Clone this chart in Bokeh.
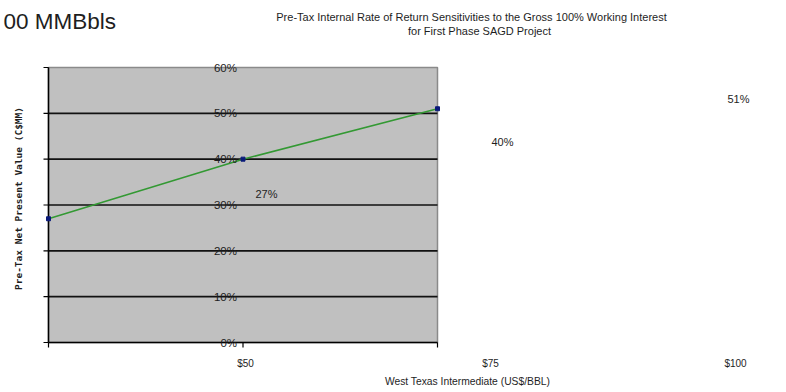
import math
from bokeh.plotting import figure
from bokeh.models import Range1d, ColumnDataSource, LabelSet, Label
from bokeh.core.properties import value
from bokeh.embed import file_html
from bokeh.resources import INLINE

# WTI price cases (US$/BBL) and resulting pre-tax IRR
wti_price = [50, 75, 100]
price_labels = ["$50", "$75", "$100"]
pre_tax_irr = [0.27, 0.40, 0.51]
irr_ticks = [0.0, 0.1, 0.2, 0.3, 0.4, 0.5, 0.6]
irr_tick_labels = ["0%", "10%", "20%", "30%", "40%", "50%", "60%"]
axis_cross_price = 75  # value axis crosses the category axis at this price

# canvas size and plot-area edges (pixels from top-left)
W, H = 786, 392
L, R, T, B = 48, 437, 67, 342
FONT = "Liberation Sans"
INK = "#1e1e1e"


def stretched(v0, p0, v1, p1, lo, hi):
    """Range whose ends land on pixels lo..hi when v0 sits at p0 and v1 at p1."""
    k = (v1 - v0) / (p1 - p0)
    return Range1d(v0 + (lo - p0) * k, v0 + (hi - p0) * k)


x_lo, x_hi = min(wti_price), max(wti_price)
y_lo, y_hi = irr_ticks[0], irr_ticks[-1]

p = figure(
    width=W, height=H,
    output_backend="svg", toolbar_location=None,
    x_range=stretched(x_lo, L, x_hi, R, 0, W),
    y_range=stretched(y_lo, B, y_hi, T, H, 0),
    min_border=0, outline_line_color=None,
    background_fill_color="white", border_fill_color="white",
)
p.axis.visible = False
p.grid.visible = False

# label layers drawn on their own (wider) scales
p.extra_x_ranges = {
    "ticks": stretched(50, 245, 100, 735, 0, W),
    "values": stretched(50, 266, 100, 738, 0, W),
}
p.extra_y_ranges = {"values": stretched(0.27, 193, 0.51, 98, H, 0)}

# plot area
p.quad(left=x_lo, right=x_hi, bottom=y_lo, top=y_hi,
       fill_color="#c0c0c0", line_color="#8a8a8a", line_width=1.5)

# horizontal gridlines
grid_y = irr_ticks[1:-1]
p.segment(x0=[x_lo] * len(grid_y), x1=[x_hi] * len(grid_y), y0=grid_y, y1=grid_y,
          line_color="#111111", line_width=1.6)

# axis lines and outward tick marks
p.segment(x0=[x_lo, x_lo], x1=[x_lo, x_hi], y0=[y_lo, y_lo], y1=[y_hi, y_lo],
          line_color="black", line_width=1.5)
p.ray(x=[x_lo] * len(irr_ticks), y=irr_ticks, length=5, length_units="screen",
      angle=math.pi, line_color="black", line_width=1.2)
p.ray(x=wti_price, y=[y_lo] * len(wti_price), length=5, length_units="screen",
      angle=-math.pi / 2, line_color="black", line_width=1.2)

# IRR line with markers
p.line(wti_price, pre_tax_irr, line_color="#339933", line_width=1.6)
p.scatter(wti_price, pre_tax_irr, marker="square", size=4,
          fill_color="#0a1a7a", line_color="#0a1a7a")

# value-axis tick labels, placed where the axis crosses
ytick_src = ColumnDataSource(dict(
    x=[axis_cross_price] * len(irr_ticks), y=irr_ticks, text=irr_tick_labels))
p.add_layout(LabelSet(
    x="x", y="y", text="text", source=ytick_src, x_offset=-6,
    text_align="right", text_baseline="middle",
    text_font=value(FONT), text_font_size=value("11.5px"), text_color=INK))

# category labels
xtick_src = ColumnDataSource(dict(
    x=wti_price, y=[y_lo] * len(wti_price), text=price_labels))
p.add_layout(LabelSet(
    x="x", y="y", text="text", source=xtick_src, x_range_name="ticks",
    y_offset=-21, text_align="center", text_baseline="middle",
    text_font=value(FONT), text_font_size=value("10px"), text_color=INK))

# data labels
val_src = ColumnDataSource(dict(
    x=wti_price, y=pre_tax_irr,
    text=[f"{v * 100:.0f}%" for v in pre_tax_irr]))
p.add_layout(LabelSet(
    x="x", y="y", text="text", source=val_src,
    x_range_name="values", y_range_name="values",
    text_align="center", text_baseline="middle",
    text_font=value(FONT), text_font_size=value("11px"), text_color=INK))


def add_text(text, px, py, size, align="center", font=FONT, style="normal", angle=0.0):
    p.add_layout(Label(x=px, y=H - py, x_units="screen", y_units="screen",
                       text=text, text_align=align, text_baseline="middle",
                       text_font=font, text_font_size=size, text_font_style=style,
                       angle=angle, text_color=INK))


add_text("00 MMBbls", 3, 21, "22.5px", align="left")
add_text("Pre-Tax Internal Rate of Return Sensitivities to the Gross 100% Working Interest",
         471, 16, "11px")
add_text("for First Phase SAGD Project", 479, 30, "11px")
add_text("West Texas Intermediate (US$/BBL)", 467, 381, "10.3px")
add_text("Pre-Tax Net Present Value (C$MM)", 18, 198, "9.5px",
         font="DejaVu Sans Mono", style="bold", angle=math.pi / 2)

open("out.html", "w").write(file_html(p, INLINE))
